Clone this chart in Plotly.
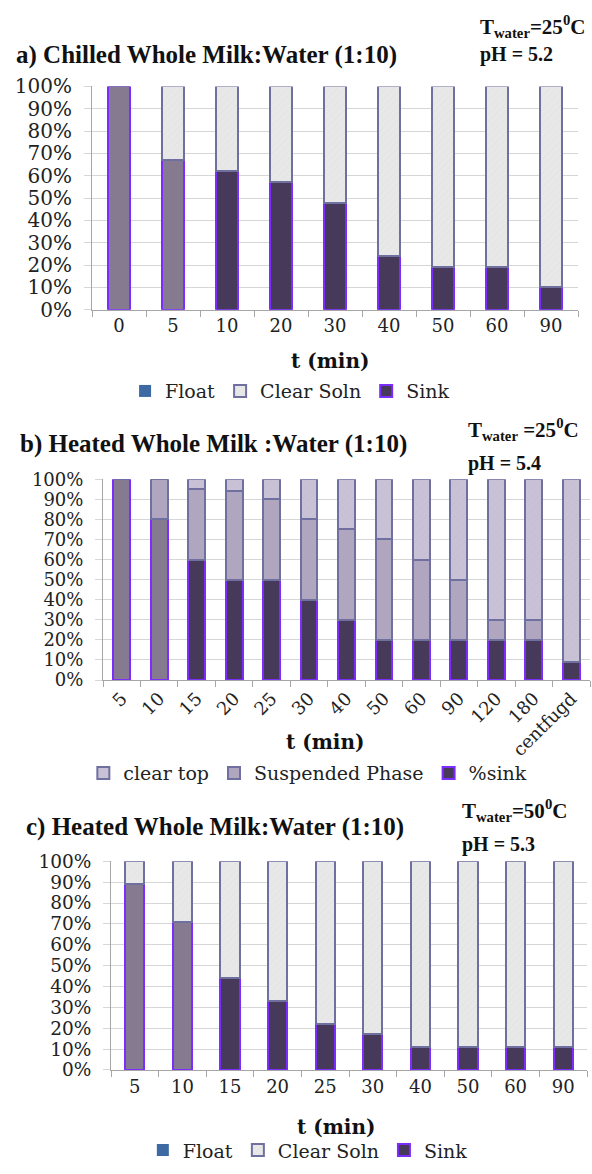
import plotly.graph_objects as go

# ---- panel a: chilled whole milk : water (1:10), 25 C ----
time_a = ["0", "5", "10", "20", "30", "40", "50", "60", "90"]
sink_a = [100, 67, 62, 57, 48, 24, 19, 19, 10]
clear_a = [0, 33, 38, 43, 52, 76, 81, 81, 90]
float_a = [0, 0, 0, 0, 0, 0, 0, 0, 0]

# ---- panel b: heated whole milk : water (1:10), 25 C ----
time_b = ["5", "10", "15", "20", "25", "30", "40", "50", "60", "90", "120", "180", "centfugd"]
sink_b = [100, 80, 60, 50, 50, 40, 30, 20, 20, 20, 20, 20, 9]
susp_b = [0, 20, 35, 44, 40, 40, 45, 50, 40, 30, 10, 10, 0]
top_b = [0, 0, 5, 6, 10, 20, 25, 30, 40, 50, 70, 70, 91]

# ---- panel c: heated whole milk : water (1:10), 50 C ----
time_c = ["5", "10", "15", "20", "25", "30", "40", "50", "60", "90"]
sink_c = [89, 71, 44, 33, 22, 17, 11, 11, 11, 11]
clear_c = [11, 29, 56, 67, 78, 83, 89, 89, 89, 89]
float_c = [0, 0, 0, 0, 0, 0, 0, 0, 0, 0]

W, H = 592, 1174
SERIF = "Liberation Serif"
TICKFONT = "DejaVu Serif"

SINK_DARK = "#46395a"
SINK_LIGHT = "#857a90"
SINK_EDGE = "#7b2cff"
CLEAR_FILL = "#e8e8e8"
SUSP_FILL = "#b0a6c0"
TOP_FILL = "#c9c1d5"
EDGE = "#6f6fa0"
FLOAT_FILL = "#3d6aa3"
GRID = "#d6d6d6"
AXIS = "#a6a6a6"


def px_y(y):
    return 1 - y / H


def px_x(x):
    return x / W


def sink_colors(vals, n_light):
    return [SINK_LIGHT if i < n_light else SINK_DARK for i in range(len(vals))]


hatch = dict(shape="/", size=5, solidity=0.12, fgcolor="#d4d4d4")
hatch_top = dict(shape="/", size=5, solidity=0.12, fgcolor="#bdb4ca")

fig = go.Figure()

# panel a traces
fig.add_trace(go.Bar(x=time_a, y=float_a, name="Float", xaxis="x", yaxis="y",
                     width=0.41, marker=dict(color=FLOAT_FILL, line=dict(width=0)),
                     legend="legend", legendrank=1))
fig.add_trace(go.Bar(x=time_a, y=sink_a, name="Sink", xaxis="x", yaxis="y",
                     width=0.41, showlegend=False,
                     marker=dict(color=sink_colors(sink_a, 2), line=dict(color=SINK_EDGE, width=2))))
fig.add_trace(go.Bar(x=time_a, y=clear_a, name="Clear Soln", xaxis="x", yaxis="y",
                     width=0.41, legend="legend", legendrank=2,
                     marker=dict(color=CLEAR_FILL, line=dict(color=EDGE, width=2), pattern=hatch)))
fig.add_trace(go.Bar(x=[time_a[0]], y=[None], name="Sink", xaxis="x", yaxis="y",
                     legend="legend", legendrank=3,
                     marker=dict(color=SINK_DARK, line=dict(color=SINK_EDGE, width=2))))

# panel b traces
fig.add_trace(go.Bar(x=time_b, y=sink_b, name="%sink", xaxis="x2", yaxis="y2",
                     width=0.45, showlegend=False,
                     marker=dict(color=sink_colors(sink_b, 2), line=dict(color=SINK_EDGE, width=2))))
fig.add_trace(go.Bar(x=time_b, y=susp_b, name="Suspended Phase", xaxis="x2", yaxis="y2",
                     width=0.45, legend="legend2", legendrank=2,
                     marker=dict(color=SUSP_FILL, line=dict(color=EDGE, width=2))))
fig.add_trace(go.Bar(x=time_b, y=top_b, name="clear top", xaxis="x2", yaxis="y2",
                     width=0.45, legend="legend2", legendrank=1,
                     marker=dict(color=TOP_FILL, line=dict(color=EDGE, width=2), pattern=hatch_top)))
fig.add_trace(go.Bar(x=[time_b[0]], y=[None], name="%sink", xaxis="x2", yaxis="y2",
                     legend="legend2", legendrank=3,
                     marker=dict(color=SINK_DARK, line=dict(color=SINK_EDGE, width=2))))

# panel c traces
fig.add_trace(go.Bar(x=time_c, y=float_c, name="Float", xaxis="x3", yaxis="y3",
                     width=0.40, marker=dict(color=FLOAT_FILL, line=dict(width=0)),
                     legend="legend3", legendrank=1))
fig.add_trace(go.Bar(x=time_c, y=sink_c, name="Sink", xaxis="x3", yaxis="y3",
                     width=0.40, showlegend=False,
                     marker=dict(color=sink_colors(sink_c, 2), line=dict(color=SINK_EDGE, width=2))))
fig.add_trace(go.Bar(x=time_c, y=clear_c, name="Clear Soln", xaxis="x3", yaxis="y3",
                     width=0.40, legend="legend3", legendrank=2,
                     marker=dict(color=CLEAR_FILL, line=dict(color=EDGE, width=2), pattern=hatch)))
fig.add_trace(go.Bar(x=[time_c[0]], y=[None], name="Sink", xaxis="x3", yaxis="y3",
                     legend="legend3", legendrank=3,
                     marker=dict(color=SINK_DARK, line=dict(color=SINK_EDGE, width=2))))

# plot areas in pixels: (left, right, top, bottom), categories, y tick font size
boxes = {
    "": ((92, 578, 76, 304), time_a, 20),
    "2": ((103, 590, 477, 682), time_b, 18),
    "3": ((111, 587, 867, 1080), time_c, 18.5),
}

layout = dict(
    width=W, height=H, margin=dict(l=0, r=0, t=0, b=0),
    paper_bgcolor="white", plot_bgcolor="white",
    barmode="stack", showlegend=True,
)

for suf, ((l, r, t, b), cats, ysize) in boxes.items():
    layout["xaxis" + suf] = dict(
        domain=[px_x(l), px_x(r)], anchor="y" + suf,
        type="category", categoryorder="array", categoryarray=cats,
        showline=True, linecolor=AXIS, linewidth=1,
        ticks="outside", tickson="boundaries", ticklen=6, tickcolor=AXIS,
        tickfont=dict(family=TICKFONT, size=18, color="#222"),
        tickangle=-45 if suf == "2" else 0,
        showgrid=False, fixedrange=True,
    )
    layout["yaxis" + suf] = dict(
        domain=[px_y(b), px_y(t)], anchor="x" + suf,
        range=[0, 100], dtick=10, ticksuffix="%",
        showline=True, linecolor=AXIS, linewidth=1,
        ticks="outside", ticklen=7, tickcolor=GRID,
        showgrid=True, gridcolor=GRID, gridwidth=1, zeroline=False,
        tickfont=dict(family=TICKFONT, size=ysize, color="#222"),
        ticklabelstandoff=8,
        fixedrange=True,
    )

legend_common = dict(orientation="h", xanchor="center", yanchor="middle",
                     font=dict(family=TICKFONT, size=19, color="#222"),
                     bgcolor="rgba(0,0,0,0)", itemwidth=30, traceorder="normal")
layout["legend"] = dict(legend_common, x=0.49, y=px_y(387))
layout["legend2"] = dict(legend_common, x=0.52, y=px_y(777))
layout["legend3"] = dict(legend_common, x=0.52, y=px_y(1162))

ann = []


def text(x, y, s, size, anchor="left", family=SERIF):
    ann.append(dict(x=px_x(x), y=px_y(y), xref="paper", yref="paper", text=s,
                    showarrow=False, xanchor=anchor, yanchor="middle",
                    font=dict(family=family, size=size, color="#111")))


# panel headings
text(14, 44, "<b>a) Chilled Whole Milk:Water (1:10)</b>", 25)
text(478, 15, "<b>T<sub>water</sub>=25<sup>0</sup>C</b>", 21)
text(478, 43, "<b>pH = 5.2</b>", 20)

text(18, 441, "<b>b) Heated Whole Milk :Water (1:10)</b>", 25)
text(466, 426, "<b>T<sub>water</sub> =25<sup>0</sup>C</b>", 21)
text(466, 461, "<b>pH = 5.4</b>", 20)

text(24, 832, "<b>c) Heated Whole Milk:Water (1:10)</b>", 25)
text(460, 815, "<b>T<sub>water</sub>=50<sup>0</sup>C</b>", 21)
text(460, 850, "<b>pH = 5.3</b>", 20)

# x-axis titles
text(330, 356, "<b>t (min)</b>", 20, anchor="center", family=TICKFONT)
text(325, 745, "<b>t (min)</b>", 20, anchor="center", family=TICKFONT)
text(336, 1138, "<b>t (min)</b>", 20, anchor="center", family=TICKFONT)

layout["annotations"] = ann
fig.update_layout(**layout)

# page body without its default margin so the figure sits at the corner
fig.write_html("out.html", post_script="document.body.style.margin='0';")
